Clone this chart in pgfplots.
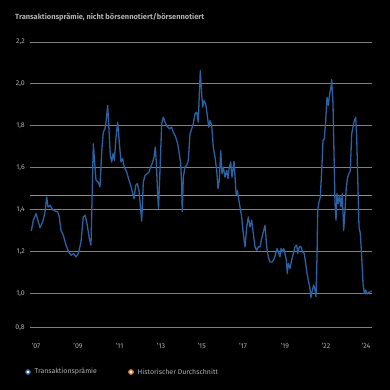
\documentclass[border=0pt]{standalone}
\usepackage{fontspec}
\setmainfont{Fira Sans}
\usepackage{pgfplots}
\pgfplotsset{compat=1.18}
\definecolor{lineblue}{HTML}{2B62A3}
\definecolor{avgorange}{HTML}{D9782E}
\definecolor{gridgray}{HTML}{808080}
\definecolor{txtgray}{HTML}{B0B0B0}
\begin{document}
\begin{tikzpicture}
\fill[black] (0,0) rectangle (390bp,-390bp);
\useasboundingbox (0,0) rectangle (390bp,-390bp);
\node[anchor=west, inner sep=0pt, text=txtgray, font=\fontsize{7.5}{8}\selectfont\bfseries] at (15bp,-17bp) {Transaktionsprämie, nicht börsennotiert/börsennotiert};
\begin{axis}[
  at={(30bp,-327.3bp)}, anchor=south west,
  scale only axis, width=341.7bp, height=285.3bp,
  xmin=30, xmax=371.7, ymin=0.838, ymax=2.2,
  axis line style={draw=none},
  major tick length=0pt,
  ytick={0.838,1.0,1.2,1.4,1.6,1.8,2.0,2.2},
  yticklabels={{0,8},{1,0},{1,2},{1,4},{1,6},{1,8},{2,0},{2,2}},
  xtick={36,78,119.5,161,201.7,243,285,326,366},
  xticklabels={’07,’09,’11,’13,’15,’17,’19,’22,’24},
  ymajorgrids, major grid style={gridgray, line width=0.8pt},
  yticklabel style={inner sep=0pt, anchor=east, xshift=-5bp, text=txtgray, font=\fontsize{7}{8}\selectfont},
  xticklabel style={inner sep=0pt, anchor=north, yshift=-16bp, text=txtgray, font=\fontsize{7}{8}\selectfont},
  clip=false,
]
\addplot[avgorange, line width=1.4pt] coordinates {(30,1.468) (371.7,1.468)};
\addplot[lineblue, line width=1.3pt, line join=round] coordinates {
(31.3,1.298) (33.3,1.349) (36,1.381) (37.7,1.352) (40,1.314) (42.7,1.341) (45,1.389) (46.7,1.46) (48,1.412) (50,1.42) (52.7,1.40) (55.3,1.393) (57.7,1.389) (59.3,1.365) (61,1.301) (63.3,1.278) (66,1.23) (68.7,1.198) (71,1.182) (73.7,1.19) (76,1.174) (78.3,1.19) (81,1.246) (83.3,1.365) (85.3,1.373) (87.3,1.325) (89.3,1.262) (91,1.23)
(93.3,1.714) (96,1.54) (98.3,1.531) (100,1.508) (101.7,1.674) (103.3,1.77) (105,1.786) (106,1.817) (107.7,1.897) (109,1.778) (110.3,1.659) (111.7,1.627) (113,1.667) (114.3,1.635) (116,1.746) (117.7,1.817) (119,1.738) (121,1.627) (122.7,1.643) (124.3,1.603) (126.7,1.579) (129,1.54) (130.7,1.516) (132.3,1.484) (134,1.452) (135.7,1.516) (137.3,1.524) (139,1.492) (140.3,1.42) (141.7,1.345) (143.3,1.531) (145,1.563) (147,1.571) (149,1.579) (150.7,1.603) (152.7,1.627) (154,1.651) (155.3,1.698) (156.3,1.627) (157.7,1.468) (158.5,1.405) (160.3,1.627) (161.7,1.81) (163.3,1.841) (165,1.817) (166.7,1.801) (169.3,1.786) (171.7,1.793) (173.3,1.77) (175.7,1.746) (177.7,1.714) (179.3,1.667) (180.7,1.619) (181.7,1.508) (182.3,1.39) (183.3,1.555) (185,1.603) (186.7,1.611) (188.3,1.635) (190,1.762) (191.7,1.786) (193.3,1.81) (195,1.857) (196.7,1.865) (198.3,1.817) (199.3,1.952) (200.3,2.063) (201.7,1.952) (202.7,1.889) (204,1.92) (205.7,1.905) (207.3,1.849) (208.7,1.793) (210,1.825) (211.7,1.801) (213.3,1.698) (215,1.651) (216.7,1.587) (218,1.5) (219.3,1.54) (220.7,1.682) (222,1.571) (223.3,1.603) (225,1.555) (226.7,1.587) (228,1.548) (229.3,1.603) (230.7,1.627) (232,1.555) (234,1.63) (235.5,1.52) (236.2,1.47) (237.3,1.49) (238.7,1.45) (240,1.412) (241.7,1.365) (243.3,1.286) (245,1.222) (246.7,1.317) (248.3,1.365) (250,1.317) (251.7,1.349) (253.3,1.286) (255,1.222) (256.7,1.206) (258.3,1.222) (260,1.222) (261.7,1.262) (263.3,1.293) (265,1.325) (266.7,1.222) (268.3,1.174) (270,1.15) (272.3,1.15) (274.3,1.167) (275.7,1.19) (277,1.214) (278.3,1.198) (280,1.174) (281,1.214) (282.3,1.198) (283.7,1.214) (285,1.19) (286.3,1.159) (287.3,1.095) (288.3,1.143) (290,1.119) (291.7,1.159) (293.3,1.19) (295,1.222) (296.7,1.23) (297.7,1.19) (299.3,1.222) (301,1.222) (302.7,1.198) (304.3,1.19) (305.7,1.143) (307,1.095) (308.3,1.063) (309.7,1.031) (311,0.98) (312.3,1.016) (313.7,1.04) (315,1.016) (316,0.984) (317,1.174) (317.7,1.397) (319,1.436) (320.3,1.46) (321.7,1.587) (323,1.73) (324.3,1.738) (325.7,1.825) (327,1.936) (328.3,1.897) (329.7,1.952) (331,1.984) (331.7,2.02) (333,1.905) (334,1.667) (335,1.429) (336,1.349) (337,1.476) (338.3,1.429) (339.7,1.468) (341,1.412) (342.3,1.476) (343.7,1.301) (345,1.397) (346.3,1.508) (347.7,1.555) (349,1.571) (350.3,1.587) (351.7,1.762) (353,1.793) (354.3,1.825) (355.7,1.841) (356.7,1.746) (357.7,1.555) (359,1.317) (360.3,1.286) (361.7,1.174) (363,1.048) (364.3,1.0) (365.7,1.016) (367,0.997) (368.3,1.003) (370.3,1.008) (371.7,1.012)
};
\end{axis}
\filldraw[draw=lineblue, fill=white, line width=1.3pt] (28bp,-372bp) circle (2.2bp);
\node[anchor=west, inner sep=0pt, text=txtgray, font=\fontsize{7}{8}\selectfont] at (34.5bp,-372bp) {Transaktionsprämie};
\filldraw[draw=avgorange, fill=white, line width=1.3pt] (131bp,-372bp) circle (2.2bp);
\node[anchor=west, inner sep=0pt, text=txtgray, font=\fontsize{7}{8}\selectfont] at (137.5bp,-372bp) {Historischer Durchschnitt};
\end{tikzpicture}
\end{document}
